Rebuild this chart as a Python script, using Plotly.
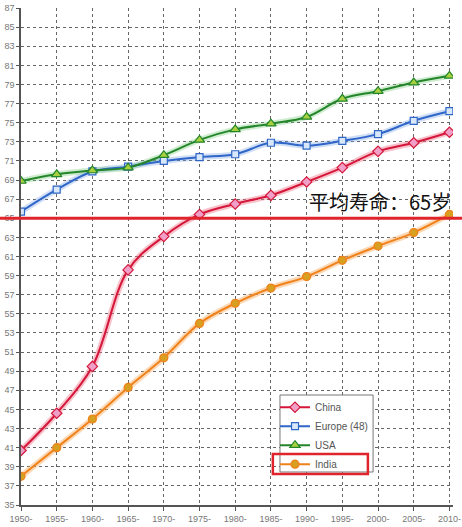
import plotly.graph_objects as go

years = [1950, 1955, 1960, 1965, 1970, 1975, 1980, 1985, 1990, 1995, 2000, 2005, 2010]
year_labels = [str(y) + "-" for y in years]

china = [40.7, 44.6, 49.5, 59.6, 63.1, 65.4, 66.5, 67.4, 68.8, 70.3, 72.0, 72.9, 74.0]
europe = [65.7, 68.0, 69.9, 70.4, 71.0, 71.4, 71.7, 72.9, 72.6, 73.1, 73.8, 75.2, 76.2]
usa = [68.9, 69.6, 70.0, 70.3, 71.6, 73.2, 74.3, 74.9, 75.6, 77.5, 78.3, 79.2, 79.9]
india = [38.0, 41.0, 44.0, 47.3, 50.4, 54.0, 56.1, 57.7, 58.9, 60.6, 62.1, 63.5, 65.4]

y_ticks = list(range(35, 88, 2))
avg_age = 65

series = [
    ("China", china, "#d4173a", "rgba(240,120,140,0.45)", "diamond", "#f0a0c8", 8),
    ("Europe (48)", europe, "#2f66c8", "rgba(120,160,230,0.35)", "square", "#d8e8f8", 7),
    ("USA", usa, "#23862a", "rgba(120,200,120,0.35)", "triangle-up", "#a8d040", 9),
    ("India", india, "#f0821c", "rgba(250,180,110,0.5)", "circle", "#d8a020", 8),
]

fig = go.Figure()

# soft halo under each line
for name, vals, col, halo, sym, fill, size in series:
    fig.add_trace(go.Scatter(x=years, y=vals, mode="lines", line_shape="spline",
                             line=dict(color=halo, width=6), showlegend=False,
                             hoverinfo="skip"))

for name, vals, col, halo, sym, fill, size in series:
    fig.add_trace(go.Scatter(x=years, y=vals, name=name, mode="lines+markers",
                             line_shape="spline",
                             line=dict(color=col, width=2),
                             marker=dict(symbol=sym, size=size, color=fill,
                                         line=dict(color=col, width=1.2))))

# average life expectancy line, runs over the whole picture width
fig.add_shape(type="line", xref="paper", yref="y", x0=-0.06, x1=1.03,
              y0=avg_age, y1=avg_age, line=dict(color="#e0242c", width=3))

fig.add_annotation(xref="paper", yref="y", x=1.0, y=avg_age, xanchor="right",
                   yanchor="bottom", text="平均寿命：65岁", showarrow=False,
                   font=dict(family="Noto Sans CJK SC", size=20, color="#111"))

# legend box drawn as a shape so the red box can sit on top of it
fig.add_shape(type="rect", xref="paper", yref="paper", x0=0.5995, x1=0.815,
              y0=0.0664, y1=0.2213, layer="above", fillcolor="white",
              line=dict(color="#777", width=1))
fig.add_shape(type="rect", xref="paper", yref="paper", x0=0.583, x1=0.803,
              y0=0.0624, y1=0.1026, layer="above",
              line=dict(color="#e0242c", width=2.5))

fig.update_layout(
    width=462,
    height=527,
    margin=dict(l=21, r=9, t=8, b=22),
    paper_bgcolor="white",
    plot_bgcolor="white",
    font=dict(family="Liberation Sans", color="#555"),
    legend=dict(x=0.588, y=0.226, xanchor="left", yanchor="top",
                bgcolor="rgba(0,0,0,0)", borderwidth=0,
                font=dict(size=10, color="#555"), tracegroupgap=0,
                itemwidth=30),
    xaxis=dict(range=[1950, 2010.5], tickvals=years, ticktext=year_labels,
               tickfont=dict(size=9, color="#777"), automargin=False,
               showgrid=True, gridcolor="#666", griddash="3px,3px", gridwidth=1,
               showline=True, linecolor="#555", linewidth=1.5,
               ticks="outside", ticklen=4, tickcolor="#555", zeroline=False),
    yaxis=dict(range=[35, 87], tickvals=y_ticks,
               tickfont=dict(size=9, color="#777"), automargin=False,
               showgrid=True, gridcolor="#666", griddash="3px,3px", gridwidth=1,
               showline=True, linecolor="#555", linewidth=1.5,
               ticks="outside", ticklen=3, tickcolor="#555", zeroline=False),
)

# page body has an 8px default margin, drop it so the figure fills the window
fig.write_html("out.html", config={"displayModeBar": False},
               post_script="document.body.style.margin='0';")
